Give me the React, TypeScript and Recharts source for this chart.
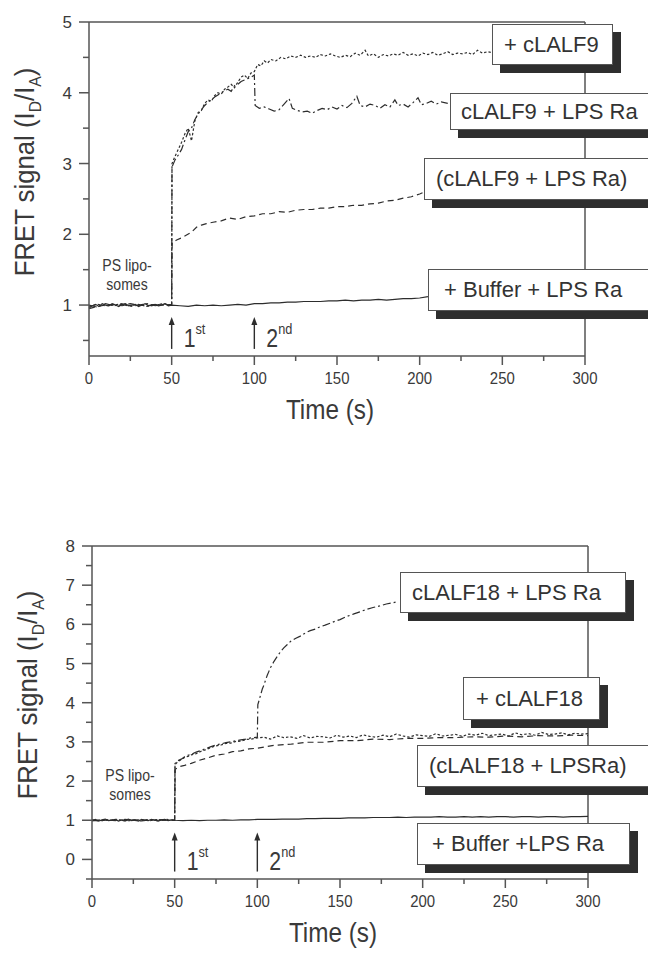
import React from 'react'
import { ComposedChart, Line, XAxis, YAxis, ReferenceLine } from 'recharts'

const INK = '#2d2d2d'
const AXIS = '#555'
const TEXT = '#3a3a3a'
const SANS = '"Liberation Sans", Arial, Helvetica, sans-serif'

// axis ticks: majors get labels, minors are short marks only
const timeTicks = [0, 25, 50, 75, 100, 125, 150, 175, 200, 225, 250, 275, 300]
const fret9Ticks = [0.5, 1, 1.5, 2, 2.5, 3, 3.5, 4, 4.5, 5]
const fret18Ticks = [-0.5, 0, 0.5, 1, 1.5, 2, 2.5, 3, 3.5, 4, 4.5, 5, 5.5, 6, 6.5, 7, 7.5, 8]

// ---- cLALF9 panel ----
// + Buffer + LPS Ra (solid)
const t9Buffer = [
  0, 2, 4, 6, 8, 10, 12, 14, 16, 18,
  20, 22, 24, 26, 28, 30, 32, 34, 36, 38,
  40, 42, 44, 46, 48, 50,
  55, 60, 65, 70, 75, 80, 85, 90, 95, 100,
  105, 110, 115, 120, 125, 130, 135, 140, 145, 150,
  155, 160, 165, 170, 175, 180, 185, 190, 195, 200,
  205,
]
const v9Buffer = [
  0.96, 0.99, 1.01, 0.98, 1.02, 1.0, 0.99, 1.02, 1.0, 0.98,
  1.01, 1.02, 0.99, 1.0, 1.01, 0.98, 1.0, 1.02, 0.99, 1.0,
  1.01, 0.99, 1.0, 1.02, 0.99, 1.0,
  0.99, 0.98, 1.0, 0.99, 1.0, 0.99, 1.0, 1.01, 1.0, 1.02,
  1.02, 1.03, 1.03, 1.04, 1.04, 1.05, 1.05, 1.05, 1.06, 1.06,
  1.07, 1.06, 1.07, 1.07, 1.08, 1.07, 1.08, 1.09, 1.09, 1.1,
  1.12,
]

// (cLALF9 + LPS Ra) premixed (dashed)
const t9Mix = [
  0, 5, 10, 15, 20, 25, 30, 35, 40, 45, 50,
  50.3, 53, 56, 59, 62, 65, 68, 71, 75, 80,
  85, 90, 95, 100, 105, 110, 115, 120, 125, 130,
  135, 140, 145, 150, 155, 160, 165, 170, 175, 180,
  185, 190, 195, 200, 203,
]
const v9Mix = [
  0.95, 0.98, 1.0, 1.01, 0.99, 1.02, 1.0, 0.99, 1.01, 1.0, 1.0,
  1.88, 1.92, 1.95, 1.99, 2.03, 2.1, 2.13, 2.15, 2.17, 2.19,
  2.23, 2.21, 2.25, 2.26, 2.29, 2.29, 2.32, 2.31, 2.34, 2.35,
  2.35, 2.37, 2.37, 2.39, 2.39, 2.41, 2.41, 2.43, 2.44, 2.47,
  2.48, 2.51, 2.53, 2.57, 2.6,
]

// cLALF9 + LPS Ra, sequential (dash-dot)
const t9Complex = [
  0, 5, 10, 15, 20, 25, 30, 35, 40, 45, 50,
  50.2, 52, 54, 56, 58, 60, 62, 64, 66, 68,
  70, 72, 74, 76, 78, 80, 82, 84, 86, 88,
  90, 92, 94, 96, 98, 100,
  100.5, 103, 106, 109, 112, 115, 118, 121, 123, 126,
  129, 132, 135, 138, 141, 144, 147, 150, 153, 156,
  159, 162, 164, 167, 170, 173, 176, 179, 182, 185,
  187, 190, 193, 196, 199, 201, 204, 207, 210, 213,
  217,
]
const v9Complex = [
  1.0, 0.97, 1.02, 0.99, 1.01, 0.98, 1.0, 1.02, 0.99, 1.01, 1.0,
  2.95, 3.05, 3.12, 3.2, 3.33, 3.45, 3.5, 3.62, 3.7, 3.76,
  3.82, 3.87, 3.9, 3.94, 3.97, 4.0, 4.03, 4.05, 4.02, 4.1,
  4.12, 4.16, 4.18, 4.2, 4.22, 4.25,
  3.82, 3.78, 3.8, 3.77, 3.74, 3.76, 3.84, 3.92, 3.78, 3.75,
  3.73, 3.74, 3.71, 3.75, 3.78, 3.76, 3.8, 3.77, 3.82, 3.79,
  3.85, 3.95, 3.82, 3.8, 3.84, 3.82, 3.78, 3.83, 3.8, 3.9,
  3.82, 3.84, 3.8, 3.86, 3.93, 3.83, 3.85, 3.88, 3.84, 3.87,
  3.85,
]

// + cLALF9 (dotted)
const t9Peptide = [
  0, 5, 10, 15, 20, 25, 30, 35, 40, 45, 50,
  50.2, 52, 54, 56, 58, 60, 62, 64, 66, 68,
  70, 72, 74, 76, 78, 80, 82, 84, 86, 88,
  90, 92, 94, 96, 98, 100,
  102, 104, 106, 108, 110, 113, 116, 119, 122, 125,
  128, 131, 134, 137, 140, 143, 146, 149, 152, 155,
  158, 161, 164, 167, 169, 172, 175, 178, 181, 184,
  187, 190, 193, 196, 199, 202, 205, 208, 211, 214,
  217, 220, 223, 226, 229, 232, 235, 238, 241, 243,
]
const v9Peptide = [
  0.98, 1.01, 0.99, 1.0, 1.02, 0.99, 1.01, 0.98, 1.0, 1.02, 1.0,
  3.0, 3.1, 3.2, 3.3, 3.42, 3.5, 3.32, 3.6, 3.72, 3.75,
  3.85, 3.9, 3.88, 3.96, 4.0, 3.98, 4.05, 4.08, 4.12, 4.07,
  4.15, 4.22, 4.25, 4.2, 4.28, 4.3,
  4.4, 4.38, 4.45, 4.42, 4.47, 4.45, 4.5, 4.48, 4.52, 4.5,
  4.53, 4.5, 4.52, 4.5, 4.54, 4.52, 4.55, 4.52, 4.5, 4.53,
  4.51, 4.56, 4.53, 4.6, 4.52, 4.55, 4.5, 4.54, 4.52, 4.55,
  4.53, 4.57, 4.53, 4.55, 4.52, 4.56, 4.54, 4.57, 4.53, 4.55,
  4.58, 4.54, 4.56, 4.55, 4.57, 4.54, 4.6, 4.56, 4.58, 4.57,
]

// ---- cLALF18 panel ----
const t18Buffer = [
  0, 2, 4, 6, 8, 10, 12, 14, 16, 18,
  20, 22, 24, 26, 28, 30, 32, 34, 36, 38,
  40, 42, 44, 46, 48, 50,
  55, 60, 65, 70, 75, 80, 85, 90, 95, 100,
  105, 110, 115, 120, 125, 130, 135, 140, 145, 150,
  155, 160, 165, 170, 175, 180, 185, 190, 195, 200,
  205, 210, 215, 220, 225, 230, 235, 240, 245, 250,
  255, 260, 265, 270, 275, 280, 285, 290, 295, 300,
]
const v18Buffer = [
  0.99, 1.02, 0.98, 1.01, 1.03, 0.99, 1.0, 1.02, 0.98, 1.01,
  1.0, 1.03, 0.99, 1.01, 0.98, 1.02, 1.0, 0.99, 1.02, 1.0,
  0.98, 1.01, 1.02, 0.99, 1.01, 1.0,
  0.99, 1.0, 0.99, 1.0, 1.0, 1.01, 1.0, 1.01, 1.01, 1.02,
  1.02, 1.02, 1.03, 1.03, 1.03, 1.04, 1.04, 1.05, 1.05, 1.05,
  1.06, 1.06, 1.06, 1.07, 1.07, 1.07, 1.08, 1.07, 1.08, 1.08,
  1.08, 1.09, 1.08, 1.08, 1.09, 1.08, 1.09, 1.08, 1.09, 1.09,
  1.08, 1.09, 1.09, 1.08, 1.09, 1.09, 1.08, 1.09, 1.09, 1.1,
]

const t18Mix = [
  0, 5, 10, 15, 20, 25, 30, 35, 40, 45, 50,
  50.3, 53, 56, 60, 65, 70, 75, 80, 85, 90,
  95, 100, 110, 120, 130, 140, 150, 160, 170, 180,
  190, 200, 210, 220, 230, 240, 250, 260, 270, 280,
  290, 300,
]
const v18Mix = [
  1.0, 0.98, 1.02, 1.0, 0.99, 1.01, 1.0, 1.02, 0.99, 1.0, 1.0,
  2.3, 2.37, 2.4, 2.45, 2.53, 2.59, 2.66, 2.69, 2.75, 2.77,
  2.82, 2.84, 2.91, 2.94, 2.99, 2.99, 3.03, 3.03, 3.07, 3.06,
  3.09, 3.09, 3.11, 3.11, 3.13, 3.12, 3.15, 3.13, 3.16, 3.15,
  3.17, 3.16,
]

const t18Peptide = [
  0, 5, 10, 15, 20, 25, 30, 35, 40, 45, 50,
  50.2, 52, 54, 56, 58, 60, 63, 66, 69, 72,
  75, 78, 81, 84, 87, 90, 93, 96, 100,
  104, 108, 112, 116, 120, 124, 128, 132, 136, 140,
  144, 148, 152, 156, 160, 164, 168, 172, 176, 180,
  184, 188, 192, 196, 200, 204, 208, 212, 216, 220,
  224, 228, 232, 236, 240, 244, 248, 252, 256, 260,
  264, 268, 272, 276, 280, 284, 288, 292, 296, 300,
]
const v18Peptide = [
  1.01, 0.99, 1.0, 1.02, 0.98, 1.0, 1.01, 0.99, 1.02, 1.0, 1.0,
  2.42, 2.5, 2.55, 2.6, 2.63, 2.67, 2.7, 2.76, 2.8, 2.86,
  2.9, 2.92, 2.96, 2.97, 3.01, 3.02, 3.06, 3.07, 3.1,
  3.12, 3.07, 3.15, 3.11, 3.13, 3.09, 3.16, 3.1, 3.14, 3.13,
  3.1, 3.17, 3.12, 3.15, 3.11, 3.18, 3.14, 3.12, 3.17, 3.13,
  3.2, 3.15, 3.12, 3.18, 3.16, 3.14, 3.21, 3.15, 3.17, 3.19,
  3.14, 3.2, 3.17, 3.22, 3.16, 3.18, 3.2, 3.15, 3.23, 3.18,
  3.21, 3.17, 3.24, 3.19, 3.2, 3.23, 3.18, 3.22, 3.2, 3.21,
]

const t18Complex = [
  0, 5, 10, 15, 20, 25, 30, 35, 40, 45, 50,
  50.2, 52, 54, 56, 58, 60, 63, 66, 69, 72,
  75, 78, 81, 84, 87, 90, 93, 96, 100,
  100.3, 101, 102, 103, 104, 105, 106, 107, 108, 109,
  110, 112, 114, 116, 118, 120, 123, 126, 129, 132,
  135, 138, 141, 144, 147, 150, 154, 158, 162, 166,
  170, 174, 178, 182, 185,
]
const v18Complex = [
  0.98, 1.01, 1.0, 0.99, 1.02, 1.0, 0.98, 1.01, 1.0, 1.02, 1.0,
  2.45, 2.52, 2.56, 2.62, 2.66, 2.68, 2.74, 2.78, 2.83, 2.88,
  2.92, 2.95, 2.98, 3.0, 3.03, 3.05, 3.07, 3.1, 3.12,
  3.95, 4.05, 4.2, 4.35, 4.45, 4.58, 4.7, 4.8, 4.9, 4.97,
  5.05, 5.18, 5.3, 5.4, 5.48, 5.56, 5.64, 5.7, 5.78, 5.84,
  5.88, 5.94, 5.98, 6.03, 6.08, 6.12, 6.2, 6.26, 6.32, 6.38,
  6.43, 6.47, 6.52, 6.55, 6.58,
]

// injection marks
const injections = [
  { t: 50, n: '1', sup: 'st' },
  { t: 100, n: '2', sup: 'nd' },
]

const pts = (t: number[], v: number[]) => t.map((x, i) => ({ t: x, v: v[i] }))

const axisLine = { stroke: AXIS, strokeWidth: 1.5 }

function TimeTick({ x, y, payload }: any) {
  const major = payload.value % 50 === 0
  return (
    <g>
      <line x1={x} y1={y} x2={x} y2={y + (major ? 9 : 5)} stroke={AXIS} strokeWidth={1.5} />
      {major && (
        <text transform={`translate(${x},${y + 28}) scale(0.88,1)`} textAnchor="middle" fontSize={17} fill={TEXT} fontFamily={SANS}>
          {payload.value}
        </text>
      )}
    </g>
  )
}

function TopTick({ x, y, payload }: any) {
  const major = payload.value % 50 === 0
  return <line x1={x} y1={y} x2={x} y2={y - (major ? 10 : 5)} stroke={AXIS} strokeWidth={1.5} />
}

function FretTick({ x, y, payload }: any) {
  const major = Number.isInteger(payload.value)
  return (
    <g>
      <line x1={x - (major ? 10 : 6)} y1={y} x2={x} y2={y} stroke={AXIS} strokeWidth={1.5} />
      {major && (
        <text x={x - 17} y={y + 6} textAnchor="end" fontSize={17} fill={TEXT} fontFamily={SANS}>
          {payload.value}
        </text>
      )}
    </g>
  )
}

function FretTitle({ ax, ay }: any) {
  return (
    <text transform={`translate(${ax},${ay}) rotate(-90) scale(0.92,1)`} textAnchor="middle" fontSize={28} fill={TEXT} fontFamily={SANS}>
      FRET signal (I<tspan fontSize={17} dy={7}>D</tspan>
      <tspan dy={-7}>/I</tspan>
      <tspan fontSize={17} dy={7}>A</tspan>
      <tspan dy={-7}>)</tspan>
    </text>
  )
}

function TimeTitle({ ax, ay }: any) {
  return (
    <text transform={`translate(${ax},${ay}) scale(0.9,1)`} textAnchor="middle" fontSize={27} fill={TEXT} fontFamily={SANS}>
      Time (s)
    </text>
  )
}

const arrowShape = (n: string, sup: string) => (p: any) => {
  const x = p.x1
  const top = Math.min(p.y1, p.y2)
  const bot = Math.max(p.y1, p.y2)
  return (
    <g>
      <line x1={x} y1={bot} x2={x} y2={top + 6} stroke={INK} strokeWidth={1.4} />
      <path d={`M${x - 3},${top + 8}L${x},${top}L${x + 3},${top + 8}Z`} fill={INK} />
      <text transform={`translate(${x + 12},${bot - 2}) scale(0.85,1)`} fontSize={25} fill={TEXT} fontFamily={SANS}>
        {n}
        <tspan fontSize={15} dy={-13}>{sup}</tspan>
      </text>
    </g>
  )
}

function Tag({ left, top, width, height, pad, text }: any) {
  return (
    <>
      <div style={{ position: 'absolute', left: left + 8, top: top + 8, width, height, background: '#2e2e2e' }} />
      <div
        style={{
          position: 'absolute', left, top, width, height, boxSizing: 'border-box',
          border: '1.5px solid #555', background: '#fff', display: 'flex', alignItems: 'center',
          paddingLeft: pad, fontSize: 22, color: '#333', whiteSpace: 'nowrap', fontFamily: SANS,
        }}
      >
        {text}
      </div>
    </>
  )
}

const lineBase = { dataKey: 'v', type: 'linear' as const, stroke: INK, strokeWidth: 1.2, dot: false, activeDot: false, isAnimationActive: false }

function Panel({ height, margin, yWidth, yDomain, yTicks, series, arrowY, fretPos, timePos }: any) {
  return (
    <ComposedChart width={648} height={height} margin={margin}>
      <XAxis
        xAxisId="t" dataKey="t" type="number" domain={[0, 300]} ticks={timeTicks} interval={0}
        tick={<TimeTick />} tickLine={false} tickSize={0} tickMargin={0} axisLine={axisLine} height={70}
        label={<TimeTitle ax={timePos[0]} ay={timePos[1]} />}
      />
      <XAxis
        xAxisId="top" orientation="top" type="number" domain={[0, 300]} ticks={timeTicks} interval={0}
        tick={<TopTick />} tickLine={false} tickSize={0} tickMargin={0} axisLine={axisLine} height={margin.topAxis}
      />
      <YAxis
        yAxisId="f" type="number" domain={yDomain} ticks={yTicks} interval={0} allowDataOverflow
        tick={<FretTick />} tickLine={false} tickSize={0} tickMargin={0} axisLine={axisLine} width={yWidth}
        label={<FretTitle ax={fretPos[0]} ay={fretPos[1]} />}
      />
      <ReferenceLine xAxisId="t" yAxisId="f" x={300} stroke={AXIS} strokeWidth={1.5} />
      <Line xAxisId="t" yAxisId="f" data={series.buffer} {...lineBase} />
      <Line xAxisId="t" yAxisId="f" data={series.mix} {...lineBase} strokeDasharray="6 4" />
      <Line xAxisId="t" yAxisId="f" data={series.complex} {...lineBase} strokeDasharray="8 3 2 3" />
      <Line xAxisId="t" yAxisId="f" data={series.peptide} {...lineBase} strokeDasharray="2.5 2" />
      {injections.map((d) => (
        <ReferenceLine
          key={d.t} xAxisId="t" yAxisId="f" ifOverflow="visible"
          segment={[{ x: d.t, y: arrowY[0] }, { x: d.t, y: arrowY[1] }]}
          shape={arrowShape(d.n, d.sup)}
        />
      ))}
    </ComposedChart>
  )
}

const lipoStyle: React.CSSProperties = {
  position: 'absolute', width: 80, textAlign: 'center', fontSize: 16, lineHeight: '19px',
  color: TEXT, transform: 'scaleX(0.88)', fontFamily: SANS,
}

export default function App() {
  return (
    <div style={{ position: 'absolute', left: 0, top: 0, width: 648, height: 953, overflow: 'hidden', background: '#fff' }}>
      <div style={{ position: 'absolute', left: 0, top: 0 }}>
        <Panel
          height={440}
          margin={{ top: 0, right: 63, bottom: 14, left: 0, topAxis: 22 }}
          yWidth={89}
          yDomain={[0.28, 5]}
          yTicks={fret9Ticks}
          arrowY={[0.38, 0.83]}
          fretPos={[34, 172]}
          timePos={[330, 419]}
          series={{
            buffer: pts(t9Buffer, v9Buffer),
            mix: pts(t9Mix, v9Mix),
            complex: pts(t9Complex, v9Complex),
            peptide: pts(t9Peptide, v9Peptide),
          }}
        />
      </div>
      <div style={{ position: 'absolute', left: 0, top: 476 }}>
        <Panel
          height={477}
          margin={{ top: 0, right: 60, bottom: 4, left: 0, topAxis: 70 }}
          yWidth={92}
          yDomain={[-0.5, 8]}
          yTicks={fret18Ticks}
          arrowY={[-0.31, 0.69]}
          fretPos={[37, 219]}
          timePos={[333, 466]}
          series={{
            buffer: pts(t18Buffer, v18Buffer),
            mix: pts(t18Mix, v18Mix),
            complex: pts(t18Complex, v18Complex),
            peptide: pts(t18Peptide, v18Peptide),
          }}
        />
      </div>

      <div style={{ ...lipoStyle, left: 87, top: 256 }}>PS lipo-<br />somes</div>
      <div style={{ ...lipoStyle, left: 90, top: 766 }}>PS lipo-<br />somes</div>

      <Tag left={492} top={24} width={121} height={41} pad={11} text="+ cLALF9" />
      <Tag left={450} top={93} width={215} height={37} pad={10} text="cLALF9 + LPS Ra" />
      <Tag left={424} top={158} width={235} height={42} pad={11} text="(cLALF9 + LPS Ra)" />
      <Tag left={428} top={269} width={235} height={42} pad={15} text="+ Buffer + LPS Ra" />

      <Tag left={400} top={572} width={226} height={41} pad={11} text="cLALF18 + LPS Ra" />
      <Tag left={463} top={677} width={137} height={43} pad={12} text="+ cLALF18" />
      <Tag left={417} top={745} width={240} height={42} pad={11} text="(cLALF18 + LPSRa)" />
      <Tag left={417} top={823} width={213} height={42} pad={14} text="+ Buffer +LPS Ra" />
    </div>
  )
}
